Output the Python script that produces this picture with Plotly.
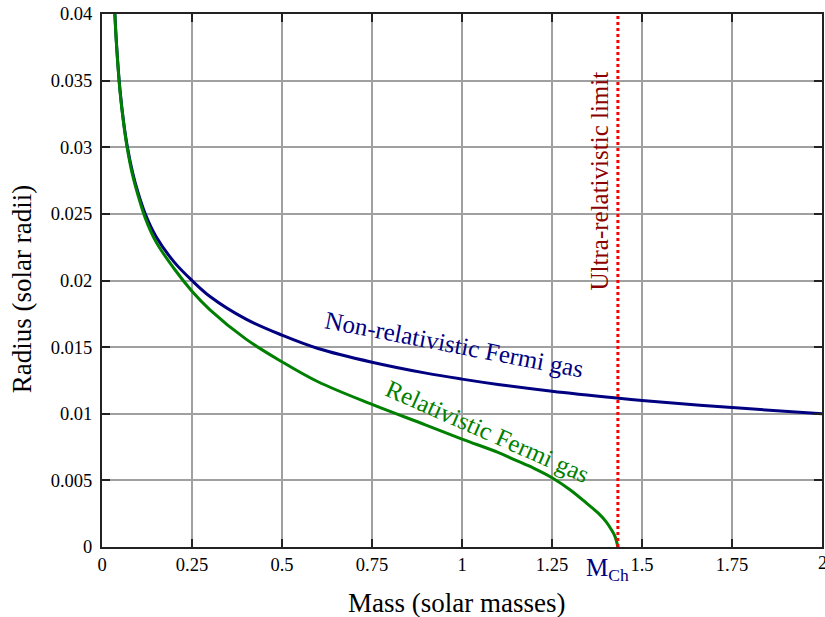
import plotly.graph_objects as go

# Non-relativistic Fermi gas (mass in solar masses, radius in solar radii)
mass_nr = [0.03, 0.035, 0.04, 0.05, 0.06, 0.07, 0.085, 0.1, 0.12, 0.15, 0.2, 0.25, 0.3,
           0.4, 0.5, 0.6, 0.75, 0.9, 1.0, 1.1, 1.25, 1.43, 1.5, 1.75, 2.0]
radius_nr = [0.0441, 0.0405, 0.0379, 0.0343, 0.0319, 0.0301, 0.0281, 0.0266, 0.0250, 0.0233,
             0.0214, 0.0200, 0.0188, 0.0171, 0.0159, 0.0149, 0.01387, 0.01305, 0.0126, 0.0122,
             0.01169, 0.01118, 0.0110, 0.01046, 0.0100]

# Relativistic Fermi gas
mass_rel = [0.03, 0.035, 0.04, 0.05, 0.06, 0.07, 0.085, 0.1, 0.12, 0.15, 0.2, 0.25, 0.3,
            0.4, 0.5, 0.6, 0.75, 0.9, 1.0, 1.1, 1.15, 1.2, 1.25, 1.3, 1.35, 1.38, 1.4, 1.415,
            1.425, 1.433]
radius_rel = [0.0440, 0.0404, 0.0378, 0.0342, 0.0318, 0.02995, 0.0279, 0.0264, 0.0247, 0.0229,
              0.0209, 0.0192, 0.0178, 0.0156, 0.0139, 0.0124, 0.0107, 0.00915, 0.0081, 0.0071,
              0.0065, 0.0059, 0.0052, 0.0043, 0.0032, 0.0025, 0.0019, 0.0013, 0.0008, 0.0]

M_CH = 1.433

x_ticks = [0, 0.25, 0.5, 0.75, 1, 1.25, 1.5, 1.75, 2]
x_tick_labels = ["0", "0.25", "0.5", "0.75", "1", "1.25", "1.5", "1.75", "2"]
y_ticks = [0, 0.005, 0.01, 0.015, 0.02, 0.025, 0.03, 0.035, 0.04]
y_tick_labels = ["0", "0.005", "0.01", "0.015", "0.02", "0.025", "0.03", "0.035", "0.04"]

FONT = "Liberation Serif"
NAVY = "#000080"
GREEN = "#008000"
DARKRED = "#8b0000"
TICK_FONT = dict(family=FONT, size=18.5, color="black")

fig = go.Figure()
fig.add_trace(go.Scatter(x=mass_nr, y=radius_nr, mode="lines",
                         line=dict(color=NAVY, width=3, shape="spline"), showlegend=False))
fig.add_trace(go.Scatter(x=mass_rel, y=radius_rel, mode="lines",
                         line=dict(color=GREEN, width=3, shape="spline"), showlegend=False))
fig.add_trace(go.Scatter(x=[M_CH, M_CH], y=[0, 0.04], mode="lines",
                         line=dict(color="#ff0000", width=3, dash="dot"), showlegend=False))

fig.add_annotation(x=0.978, y=0.01516, text="Non-relativistic Fermi gas", showarrow=False,
                   textangle=10.9, font=dict(family=FONT, size=25, color=NAVY))
fig.add_annotation(x=1.072, y=0.0087, text="Relativistic Fermi gas", showarrow=False,
                   textangle=23.8, font=dict(family=FONT, size=25, color=GREEN))
fig.add_annotation(x=1.382, y=0.02747, text="Ultra-relativistic limit", showarrow=False,
                   textangle=-90, font=dict(family=FONT, size=25, color=DARKRED))
fig.add_annotation(x=M_CH, y=0, text="M<sub>Ch</sub>", showarrow=False,
                   yanchor="top", xanchor="center", yshift=-5, xshift=-10,
                   font=dict(family=FONT, size=25, color=NAVY))
# last x tick label, partly cut by the page edge as in the original
fig.add_annotation(x=x_ticks[-1], y=0, text=x_tick_labels[-1], showarrow=False,
                   yanchor="top", xanchor="center", yshift=-4, font=TICK_FONT)

# axis titles
fig.add_annotation(xref="paper", yref="paper", x=(457 - 102) / 722, y=-0.105,
                   text="Mass (solar masses)", showarrow=False, xanchor="center", yanchor="middle",
                   font=dict(family=FONT, size=27, color="black"))
fig.add_annotation(xref="paper", yref="paper", x=(22 - 102) / 722, y=(547 - 289) / 533,
                   text="Radius (solar radii)", showarrow=False, textangle=-90,
                   xanchor="center", yanchor="middle",
                   font=dict(family=FONT, size=27, color="black"))

axis_common = dict(showgrid=True, gridcolor="#a0a0a0", gridwidth=1.5, zeroline=False,
                   showline=True, linecolor="#222222", linewidth=2, mirror="ticks",
                   ticks="inside", ticklen=8, tickwidth=2, tickcolor="#222222",
                   tickfont=TICK_FONT)

fig.update_xaxes(range=[0, 2], tickvals=x_ticks[:-1], ticktext=x_tick_labels[:-1], **axis_common)
fig.update_yaxes(range=[0, 0.04], tickvals=y_ticks, ticktext=y_tick_labels,
                 ticklabelstandoff=4, **axis_common)

fig.update_layout(width=825, height=617, margin=dict(l=102, r=1, t=14, b=70),
                  plot_bgcolor="white", paper_bgcolor="white",
                  font=dict(family=FONT, color="black"))

fig.write_html("out.html")
